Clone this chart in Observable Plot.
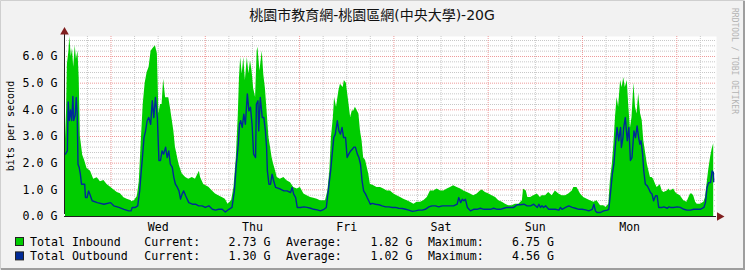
<!DOCTYPE html>
<html><head><meta charset="utf-8">
<script src="https://cdn.jsdelivr.net/npm/d3@7"></script>
<script src="https://cdn.jsdelivr.net/npm/@observablehq/plot@0.6"></script>
<style>
html,body{margin:0;padding:0;background:#f2f2f2;}
#chart{width:745px;height:270px;position:relative;}
</style></head><body><div id="chart"></div>
<script>
// ---------- text ----------
const chartTitle = "桃園市教育網-桃園區網(中央大學)-20G";
const yAxisLabel = "bits per second";
const watermark = "RRDTOOL / TOBI OETIKER";
// ---------- time axis (hours since Tue 00:00) ----------
const timeDomain = [12.165, 178.11];
const dayLabels = ["Wed", "Thu", "Fri", "Sat", "Sun", "Mon"];
const dayLabelHours = [36, 60, 84, 108, 132, 156];
const midnightHours = [24, 48, 72, 96, 120, 144, 168];
// ---------- value axis (G bits/s) ----------
const valueDomain = [0, 6.75];
const valueTicks = [0, 1, 2, 3, 4, 5, 6];
// ---------- legend ----------
const seriesNames = ["Total Inbound", "Total Outbound"];
const seriesColors = ["#00cc00", "#002a97"];
const currentValues = ["2.73 G", "1.30 G"];
const averageValues = ["1.82 G", "1.02 G"];
const maximumValues = ["6.75 G", "4.56 G"];

// ---------- Total Inbound (area) ----------
const inboundHours = [12.42,12.7,12.9,13.3,13.5,13.9,14.2,14.5,14.9,15.2,15.6,15.9,16.2,16.8,17.3,17.9,18.8,19.6,20.5,21.3,22.2,23.0,23.9,24.7,25.6,26.4,27.3,28.1,29.0,29.4,30.0,30.7,31.2,31.7,32.2,32.7,33.2,33.7,34.2,34.7,35.3,35.8,36.2,36.6,37.0,37.4,37.9,38.7,39.1,40.0,40.4,41.3,42.1,43.0,43.8,44.7,45.5,46.5,46.8,47.6,48.9,49.8,50.6,51.4,52.3,53.1,53.8,54.7,55.3,55.9,56.4,56.7,57.0,57.4,57.8,58.2,58.7,59.1,59.5,59.9,60.3,60.8,61.2,61.4,61.9,62.5,62.9,63.3,63.8,64.2,64.6,65.0,65.4,65.9,66.3,67.1,68.0,68.8,69.7,70.5,71.4,72.2,73.1,73.9,74.8,75.6,76.5,77.3,78.6,79.2,79.7,80.1,80.6,80.9,81.4,82.0,82.4,83.1,83.4,83.9,84.5,85.0,85.4,85.8,86.2,86.7,87.1,87.5,87.9,88.3,88.8,89.6,90.0,90.9,91.7,92.6,93.4,94.3,95.1,96.0,96.8,97.7,98.5,99.4,100.2,101.1,101.9,102.8,103.6,104.5,105.3,106.2,107.0,107.9,108.7,109.6,110.4,111.2,112.1,113.0,113.8,114.7,115.5,116.3,117.2,118.0,118.5,119.3,120.2,121.0,121.9,122.7,123.6,124.4,125.2,126.1,126.9,127.8,128.7,129.0,129.7,130.1,130.8,131.6,132.5,133.3,133.7,134.6,135.4,136.3,137.1,138.0,138.8,139.7,140.5,141.4,141.8,142.6,143.5,144.3,145.2,146.0,146.9,147.7,148.6,149.4,150.0,150.7,151.1,151.6,152.0,152.4,152.8,153.2,153.7,154.1,154.5,154.9,155.4,155.8,156.2,156.6,157.1,157.5,157.9,158.3,158.8,159.2,159.6,160.0,160.5,160.9,161.3,161.7,162.1,162.6,163.0,163.8,164.3,164.7,165.6,166.0,166.4,167.2,167.7,168.1,168.9,169.8,170.6,171.1,171.5,171.9,172.3,172.8,173.2,174.0,174.9,175.3,175.7,176.1,176.6,177.0,177.4];
const inboundValues = [2.9,4.0,5.7,6.2,6.75,6.0,6.3,5.6,6.4,5.9,6.2,5.2,3.0,2.3,2.1,1.8,1.7,1.4,1.45,1.3,1.35,1.2,1.1,1.0,0.9,0.85,0.7,0.65,0.6,0.55,0.6,0.75,1.3,2.8,4.2,5.0,5.4,5.6,6.2,6.3,6.4,6.1,3.85,4.2,4.2,5.15,4.45,4.45,4.1,3.2,2.6,1.96,1.6,1.46,1.4,1.46,1.4,1.7,1.46,1.2,1.1,0.96,0.84,0.78,0.71,0.65,0.46,0.59,1.09,2.2,3.8,5.2,5.96,5.34,5.96,5.1,5.96,5.34,5.84,5.46,4.8,4.46,6.2,6.35,5.46,6.2,5.3,4.8,3.8,2.96,2.6,2.2,1.96,1.7,1.46,1.4,1.46,1.34,1.27,1.09,1.03,1.09,0.84,0.78,0.71,0.68,0.65,0.59,0.59,0.96,1.71,2.96,3.71,4.46,4.1,4.71,4.96,4.84,5.1,5.0,4.3,3.7,3.96,3.96,4.1,3.96,3.84,3.2,2.84,2.2,2.1,1.59,1.21,1.15,1.09,1.09,1.03,0.96,0.96,0.84,0.78,0.71,0.65,0.59,0.53,0.46,0.53,0.53,0.59,0.71,0.96,0.96,1.03,0.96,0.96,1.03,1.09,1.15,1.09,1.03,0.96,0.9,0.84,0.78,0.84,0.96,0.99,0.9,0.84,0.78,0.71,0.59,0.53,0.46,0.4,0.4,0.46,0.46,0.59,1.02,0.96,0.71,0.71,0.78,0.84,0.71,0.78,0.78,0.9,0.78,0.96,0.84,0.78,0.78,0.84,0.96,1.09,1.09,0.84,0.71,0.65,0.59,0.53,0.59,0.4,0.4,0.34,0.46,1.34,1.96,2.71,3.71,4.46,4.1,5.1,4.84,5.2,4.84,5.1,4.1,3.3,3.7,5.0,4.1,3.84,4.6,3.84,3.6,2.84,2.46,1.96,1.71,1.46,1.46,1.4,1.21,1.09,1.19,0.96,0.9,0.96,1.03,0.96,1.03,0.9,0.84,0.78,0.59,0.53,0.71,0.84,0.84,0.78,0.53,0.46,0.46,0.53,0.71,1.21,1.71,2.21,2.52,2.73];

// ---------- Total Outbound (line) ----------
const outboundHours = [12.42,12.9,13.1,13.4,13.7,14.0,14.3,14.5,14.9,15.15,15.4,15.6,15.9,16.2,16.5,16.9,17.3,17.5,17.9,18.3,18.6,19.2,20.5,22.2,23.9,24.7,26.0,27.3,28.5,29.1,29.4,30.2,30.8,31.3,31.7,32.0,32.4,32.8,33.2,33.6,34.1,34.5,34.9,35.3,35.8,36.2,36.6,37.0,37.4,37.9,38.3,38.7,39.1,39.6,40.0,40.4,40.9,41.3,41.7,42.1,42.5,43.0,43.4,43.8,44.7,45.5,46.3,47.2,48.0,48.9,49.8,50.6,51.4,52.3,53.1,54.0,54.8,55.4,55.9,56.4,56.7,57.0,57.4,57.8,58.2,58.7,59.1,59.5,59.9,60.3,60.8,61.0,61.4,61.6,62.0,62.5,62.9,63.3,63.6,63.8,64.2,64.6,65.0,65.4,65.9,67.1,68.0,68.8,69.7,70.1,70.5,71.0,71.4,72.2,73.1,73.9,74.8,75.6,76.5,77.3,78.2,78.8,79.4,79.9,80.3,80.7,81.1,81.6,82.0,82.4,82.8,83.2,83.7,84.1,84.5,85.0,85.4,85.8,86.2,86.7,87.1,87.5,87.9,88.3,88.8,89.2,89.6,90.0,90.5,91.3,92.2,93.0,93.9,94.7,95.6,96.4,97.2,98.1,99.0,99.8,100.7,101.5,102.3,103.2,104.0,104.9,105.7,106.6,107.4,108.3,109.1,110.4,111.2,112.1,112.5,113.0,113.4,113.8,114.2,114.7,115.5,116.3,117.2,118.0,118.9,119.7,120.6,121.4,122.3,123.1,124.0,124.8,125.7,126.5,127.4,128.2,129.1,129.9,130.8,131.6,132.5,132.9,133.3,133.7,134.1,134.6,135.4,136.3,137.1,138.0,138.4,138.8,139.7,140.5,141.4,142.2,143.1,143.9,144.8,145.6,146.5,146.9,147.3,147.7,148.6,149.4,150.3,150.7,151.1,151.6,152.0,152.4,152.8,153.2,153.7,153.9,154.3,154.5,154.9,155.4,155.8,156.2,156.6,157.1,157.5,157.9,158.3,158.6,158.9,159.3,159.6,160.0,160.5,160.9,161.3,161.7,162.1,162.6,163.0,163.4,164.3,164.7,165.6,166.0,166.4,167.2,168.1,168.9,169.8,170.6,171.5,172.3,173.2,174.0,174.9,175.3,175.7,176.1,176.6,177.0,177.3,177.4];
const outboundValues = [2.34,2.46,4.3,3.6,4.0,3.6,4.5,3.6,3.8,4.46,3.84,1.96,1.84,1.59,1.21,1.21,1.21,0.71,0.71,0.96,0.84,0.59,0.52,0.46,0.52,0.4,0.34,0.27,0.21,0.21,0.34,0.34,0.4,0.96,1.71,2.21,2.96,3.21,3.59,3.71,3.46,4.34,3.71,4.46,3.71,2.1,2.1,2.46,2.34,2.6,2.21,2.46,1.96,1.84,1.46,1.21,1.09,0.96,0.65,0.84,0.96,0.78,0.65,0.52,0.46,0.46,0.4,0.4,0.34,0.4,0.27,0.24,0.27,0.27,0.17,0.27,0.34,0.96,1.96,2.71,3.46,3.59,3.34,3.84,3.46,4.6,3.96,4.1,3.46,2.34,2.21,4.21,4.34,3.21,4.46,3.71,3.71,3.21,2.59,1.71,1.21,1.21,1.59,1.34,1.09,1.03,0.96,0.96,0.9,1.09,0.84,0.71,0.34,0.34,0.36,0.34,0.31,0.27,0.25,0.21,0.27,0.34,1.09,1.71,2.34,2.96,3.09,3.59,3.21,3.09,3.34,2.96,2.96,2.21,2.34,2.46,2.52,2.6,2.6,2.34,2.21,1.96,1.34,0.96,0.84,0.71,0.59,0.46,0.49,0.46,0.44,0.4,0.36,0.36,0.34,0.34,0.31,0.3,0.27,0.24,0.19,0.21,0.24,0.24,0.27,0.36,0.4,0.4,0.36,0.4,0.4,0.4,0.4,0.46,0.71,0.52,0.65,0.59,0.65,0.34,0.21,0.27,0.27,0.31,0.27,0.27,0.27,0.31,0.27,0.27,0.31,0.34,0.34,0.34,0.44,0.44,0.46,0.4,0.4,0.46,0.34,0.46,0.34,0.4,0.34,0.4,0.27,0.27,0.27,0.24,0.34,0.27,0.34,0.4,0.34,0.31,0.27,0.27,0.25,0.21,0.27,0.46,0.21,0.15,0.15,0.21,0.24,0.27,0.84,1.59,1.96,2.71,3.34,2.84,3.34,2.59,2.96,3.34,3.71,2.84,3.34,2.1,2.21,3.21,2.96,3.4,2.96,2.71,2.84,2.34,1.71,1.21,1.15,1.03,0.9,0.84,0.59,0.78,0.78,0.34,0.34,0.36,0.31,0.36,0.34,0.34,0.36,0.34,0.27,0.24,0.24,0.27,0.27,0.27,0.34,0.52,1.09,1.27,1.27,1.71,1.65,1.30];

const inbound = inboundHours.map((t, i) => ({t, v: inboundValues[i]}));
const outbound = outboundHours.map((t, i) => ({t, v: outboundValues[i]}));

const minorY = d3.range(0.2, 6.75, 0.2).filter(v => Math.abs(v - Math.round(v)) > 0.01);
const majorY = [1, 2, 3, 4, 5, 6];
const minorX = d3.range(18, 178, 6).filter(h => h % 24 !== 0);

const mono = "'DejaVu Sans Mono', monospace";

const svgEl = Plot.plot({
  width: 745,
  height: 270,
  marginTop: 36,
  marginBottom: 54,
  marginLeft: 64,
  marginRight: 29,
  style: {background: "#f2f2f2", fontFamily: mono, fontSize: "11.6px", color: "#000", overflow: "visible"},
  x: {domain: timeDomain, label: null},
  y: {domain: valueDomain, label: null},
  marks: [
    Plot.frame({fill: "#ffffff", stroke: null}),
    Plot.ruleY(minorY, {stroke: "#c8c8c8", strokeDasharray: "1,1"}),
    Plot.ruleX(minorX, {stroke: "#c8c8c8", strokeDasharray: "1,1"}),
    Plot.ruleY(majorY, {stroke: "#ee9a9a", strokeDasharray: "1,1"}),
    Plot.ruleX(midnightHours, {stroke: "#ee9a9a", strokeDasharray: "1,1"}),
    Plot.areaY(inbound, {x: "t", y: "v", fill: seriesColors[0]}),
    Plot.lineY(outbound, {x: "t", y: "v", stroke: seriesColors[1], strokeWidth: 1.4}),
    Plot.ruleY([0], {x1: timeDomain[0], x2: timeDomain[1], stroke: "#1f1f1f"}),
    Plot.ruleX([timeDomain[0]], {y1: 0, y2: valueDomain[1], dy: -2, stroke: "#1f1f1f"}),
    Plot.dot([{}], {frameAnchor: "top-left", symbol: "triangle", r: 3.2, fill: "#801f1f", stroke: null, dy: -4.5}),
    Plot.dot([{}], {frameAnchor: "bottom-right", symbol: "triangle", rotate: 90, r: 3.2, fill: "#801f1f", stroke: null, dx: 3}),
    Plot.axisY({ticks: valueTicks, tickFormat: d => d.toFixed(1) + " G", tickSize: 0, tickPadding: 7, label: null}),
    Plot.axisX({ticks: dayLabelHours, tickFormat: d => dayLabels[dayLabelHours.indexOf(d)], tickSize: 0, tickPadding: 6, label: null})
  ]
});

document.getElementById("chart").appendChild(svgEl);
const svg = d3.select(svgEl);

// shade border (RRDtool style)
svg.append("path").attr("d", "M0.5,269.5V0.5H744.5").attr("fill", "none").attr("stroke", "#cfcfcf");
svg.append("path").attr("d", "M1,269H744V1").attr("fill", "none").attr("stroke", "#9e9e9e").attr("stroke-width", 2);

// title
svg.append("text")
  .attr("x", 372).attr("y", 20).attr("text-anchor", "middle")
  .style("font-family", "'DejaVu Sans', 'Noto Sans CJK TC', sans-serif")
  .style("font-size", "14px").attr("fill", "#111")
  .text(chartTitle);

// vertical axis label
svg.append("text")
  .attr("transform", "translate(14,126) rotate(-90)")
  .attr("text-anchor", "middle")
  .style("font-family", mono).style("font-size", "10px").attr("fill", "#000")
  .text(yAxisLabel);

// watermark
svg.append("text")
  .attr("transform", "translate(732,8) rotate(90)")
  .attr("text-anchor", "start")
  .style("font-family", mono).style("font-size", "8px").attr("fill", "#b4b4b4")
  .text(watermark);

// legend
const legendX = {name: 30, cur: 144.3, curV: 228.5, avg: 285.9, avgV: 370.5, max: 427.9, maxV: 512};
const rowBaselines = [245.5, 259.9];
seriesNames.forEach((name, i) => {
  const y = rowBaselines[i];
  const g = svg.append("g").attr("text-anchor", "start")
    .style("font-family", mono).style("font-size", "11.6px").attr("fill", "#000");
  g.append("rect").attr("x", 15.5).attr("y", y - 8).attr("width", 8).attr("height", 8)
    .attr("fill", seriesColors[i]).attr("stroke", "#222");
  g.append("text").attr("x", legendX.name).attr("y", y).text(name);
  g.append("text").attr("x", legendX.cur).attr("y", y).text("Current:");
  g.append("text").attr("x", legendX.curV).attr("y", y).text(currentValues[i]);
  g.append("text").attr("x", legendX.avg).attr("y", y).text("Average:");
  g.append("text").attr("x", legendX.avgV).attr("y", y).text(averageValues[i]);
  g.append("text").attr("x", legendX.max).attr("y", y).text("Maximum:");
  g.append("text").attr("x", legendX.maxV).attr("y", y).text(maximumValues[i]);
});
</script>
</body></html>
